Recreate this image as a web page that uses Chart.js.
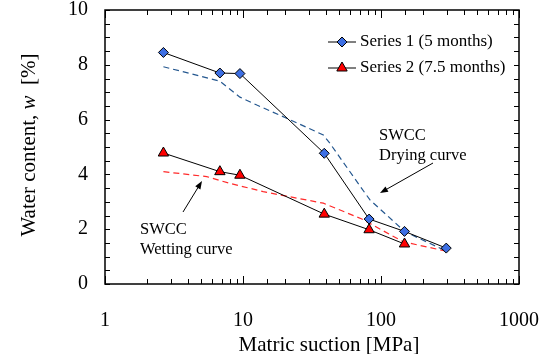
<!DOCTYPE html>
<html>
<head>
<meta charset="utf-8">
<script src="https://cdn.jsdelivr.net/npm/chart.js@4/dist/chart.umd.min.js"></script>
<style>
  html, body { margin: 0; padding: 0; background: #fff; }
  #wrap { width: 552px; height: 354px; }
</style>
</head>
<body>
<div id="wrap"><canvas id="chart"></canvas></div>
<script>
// Measured points (matric suction in MPa, water content in %)
const suction1 = [2.65, 6.8, 9.5, 38.8, 82, 148, 297];
const water1 = [8.45, 7.7, 7.68, 4.77, 2.37, 1.92, 1.31];

const suction2 = [2.65, 6.8, 9.5, 38.8, 82, 148];
const water2 = [4.78, 4.1, 3.97, 2.55, 1.98, 1.46];

// SWCC curves (dashed)
const dryingSuction = [2.65, 6.8, 9.5, 12.6, 20.7, 38.2, 42.7, 72.4, 83.2, 149, 297];
const dryingWater = [7.93, 7.4, 6.82, 6.53, 6.05, 5.44, 5.13, 3.49, 3.07, 1.91, 1.2];

const wettingSuction = [2.65, 5.46, 8.05, 11.3, 14, 38.2, 72, 145, 297];
const wettingWater = [4.1, 3.92, 3.67, 3.49, 3.37, 2.95, 2.38, 1.54, 1.2];

const xTickLabels = [1, 10, 100, 1000];
const yTickLabels = [0, 2, 4, 6, 8, 10];

const SERIF = "'Liberation Serif', 'Times New Roman', serif";

const toXY = (xs, ys) => xs.map((v, i) => ({ x: v, y: ys[i] }));

// frame box + inward ticks on all four sides
const frameTicks = {
    id: 'frameTicks',
    afterDraw: (chart) => {
        const { ctx, chartArea: a, scales: { x, y } } = chart;
        ctx.save();
        ctx.strokeStyle = '#000';
        ctx.lineWidth = 1;
        ctx.beginPath();
        x.ticks.forEach(t => {
            const px = Math.round(x.getPixelForValue(t.value)) + 0.5;
            const major = Math.abs(Math.log10(t.value) - Math.round(Math.log10(t.value))) < 1e-6;
            const len = major ? 8 : 5;
            ctx.moveTo(px, a.bottom); ctx.lineTo(px, a.bottom - len);
            ctx.moveTo(px, a.top); ctx.lineTo(px, a.top + len);
        });
        y.ticks.forEach(t => {
            const py = Math.round(y.getPixelForValue(t.value)) + 0.5;
            ctx.moveTo(a.left, py); ctx.lineTo(a.left + 5, py);
            ctx.moveTo(a.right, py); ctx.lineTo(a.right - 5, py);
        });
        ctx.stroke();
        ctx.lineWidth = 1.5;
        ctx.strokeRect(a.left, a.top, a.right - a.left, a.bottom - a.top);
        ctx.restore();
    }
};

// axis titles (y title has an italic w)
const axisTitles = {
    id: 'axisTitles',
    afterDraw: (chart) => {
        const { ctx } = chart;
        const parts = [
            { t: 'Water content, ', f: '21px ' + SERIF },
            { t: 'w', f: 'italic 21px ' + SERIF },
            { t: '  [%]', f: '21px ' + SERIF }
        ];
        ctx.save();
        ctx.fillStyle = '#000';
        ctx.font = '21px ' + SERIF;
        ctx.textAlign = 'center';
        ctx.textBaseline = 'alphabetic';
        ctx.fillText('Matric suction [MPa]', 329, 351);

        ctx.textAlign = 'left';
        let total = 0;
        parts.forEach(p => { ctx.font = p.f; p.w = ctx.measureText(p.t).width; total += p.w; });
        ctx.translate(29, 145);
        ctx.rotate(-Math.PI / 2);
        ctx.textBaseline = 'middle';
        let cx = -total / 2;
        parts.forEach(p => { ctx.font = p.f; ctx.fillText(p.t, cx, 0); cx += p.w; });
        ctx.restore();
    }
};

// legend inside the plot, line through marker
const innerLegend = {
    id: 'innerLegend',
    afterDraw: (chart) => {
        const { ctx } = chart;
        const rows = [0, 1];
        ctx.save();
        rows.forEach((idx, r) => {
            const ds = chart.data.datasets[idx];
            const cy = 42 + r * 26;
            ctx.strokeStyle = '#000';
            ctx.lineWidth = 1;
            ctx.beginPath();
            ctx.moveTo(328, cy); ctx.lineTo(356, cy);
            ctx.stroke();
            ctx.fillStyle = ds.pointBackgroundColor;
            Chart.helpers.drawPoint(ctx, {
                pointStyle: ds.pointStyle,
                radius: ds.pointRadius,
                borderWidth: 1
            }, 342, cy);
            ctx.fillStyle = '#000';
            ctx.font = '17px ' + SERIF;
            ctx.textBaseline = 'middle';
            ctx.fillText(ds.label, 360, cy);
        });
        ctx.restore();
    }
};

// text notes and arrows
const notes = {
    id: 'notes',
    afterDraw: (chart) => {
        const { ctx } = chart;
        const arrow = (x1, y1, x2, y2) => {
            const ang = Math.atan2(y2 - y1, x2 - x1);
            ctx.beginPath();
            ctx.moveTo(x1, y1);
            ctx.lineTo(x2 - 6 * Math.cos(ang), y2 - 6 * Math.sin(ang));
            ctx.stroke();
            ctx.beginPath();
            ctx.moveTo(x2, y2);
            ctx.lineTo(x2 - 8 * Math.cos(ang) + 3 * Math.sin(ang), y2 - 8 * Math.sin(ang) - 3 * Math.cos(ang));
            ctx.lineTo(x2 - 8 * Math.cos(ang) - 3 * Math.sin(ang), y2 - 8 * Math.sin(ang) + 3 * Math.cos(ang));
            ctx.closePath();
            ctx.fill();
        };
        ctx.save();
        ctx.fillStyle = '#000';
        ctx.strokeStyle = '#000';
        ctx.lineWidth = 1;
        ctx.font = '16.5px ' + SERIF;
        ctx.textBaseline = 'alphabetic';
        ctx.fillText('SWCC', 379, 140);
        ctx.fillText('Drying curve', 379, 160);
        ctx.fillText('SWCC', 140, 234);
        ctx.fillText('Wetting curve', 140, 254);
        arrow(433, 163, 380, 193);
        arrow(183, 212, 202, 181);
        ctx.restore();
    }
};

new Chart(document.getElementById('chart'), {
    type: 'line',
    data: {
        datasets: [
            {
                label: 'Series 1 (5 months)',
                data: toXY(suction1, water1),
                borderColor: '#000',
                borderWidth: 1,
                pointStyle: 'rectRot',
                pointRadius: 5,
                pointBackgroundColor: '#3d6fe3',
                pointBorderColor: '#000',
                pointBorderWidth: 1,
                order: 1
            },
            {
                label: 'Series 2 (7.5 months)',
                data: toXY(suction2, water2),
                borderColor: '#000',
                borderWidth: 1,
                pointStyle: 'triangle',
                pointRadius: 6,
                pointBackgroundColor: '#ff0000',
                pointBorderColor: '#000',
                pointBorderWidth: 1,
                order: 0
            },
            {
                label: 'SWCC drying',
                data: toXY(dryingSuction, dryingWater),
                borderColor: '#24578f',
                borderWidth: 1.2,
                borderDash: [6, 4],
                pointRadius: 0,
                order: 3
            },
            {
                label: 'SWCC wetting',
                data: toXY(wettingSuction, wettingWater),
                borderColor: '#ff2a2a',
                borderWidth: 1.2,
                borderDash: [6, 4],
                pointRadius: 0,
                order: 3
            }
        ]
    },
    options: {
        responsive: true,
        maintainAspectRatio: false,
        animation: false,
        layout: { padding: { top: 10, right: 33, left: 0, bottom: 0 } },
        plugins: {
            legend: { display: false },
            tooltip: { enabled: false }
        },
        scales: {
            x: {
                type: 'logarithmic',
                min: 1,
                max: 1000,
                grid: { display: false, drawTicks: false },
                border: { display: false },
                afterFit: (s) => {
                    s.height = 70;
                    s.paddingLeft = 0;
                    s.paddingRight = 0;
                },
                ticks: {
                    autoSkip: false,
                    maxRotation: 0,
                    padding: 25,
                    color: '#000',
                    font: { family: SERIF, size: 20 },
                    callback: (v) => xTickLabels.includes(v) ? String(v) : ''
                }
            },
            y: {
                min: 0,
                max: 10,
                grid: { display: false, drawTicks: false },
                border: { display: false },
                afterFit: (s) => {
                    s.width = 105;
                    s.paddingTop = 0;
                    s.paddingBottom = 0;
                },
                ticks: {
                    stepSize: 0.5,
                    autoSkip: false,
                    padding: 17,
                    color: '#000',
                    font: { family: SERIF, size: 20 },
                    callback: (v) => yTickLabels.includes(v) ? String(v) : ''
                }
            }
        }
    },
    plugins: [frameTicks, axisTitles, innerLegend, notes]
});
</script>
</body>
</html>
